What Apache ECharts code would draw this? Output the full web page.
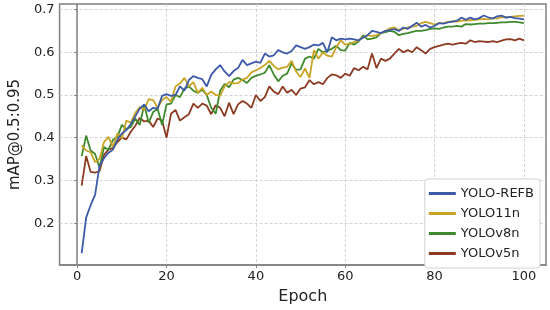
<!DOCTYPE html>
<html>
<head>
<meta charset="utf-8">
<script src="https://cdn.jsdelivr.net/npm/echarts@6/dist/echarts.min.js"></script>
<style>
  html, body { margin: 0; padding: 0; background: #fff; }
  #chart { width: 550px; height: 310px; }
</style>
</head>
<body>
<div id="chart"></div>
<script>
// epochs 1..100
var epochs = [];
for (var i = 1; i <= 100; i++) epochs.push(i);

var refb = [
  0.130, 0.213, 0.242, 0.266, 0.334, 0.352, 0.365, 0.372, 0.395, 0.410,
  0.418, 0.432, 0.450, 0.468, 0.478, 0.462, 0.470, 0.468, 0.498, 0.502,
  0.498, 0.500, 0.520, 0.510, 0.535, 0.544, 0.540, 0.537, 0.520, 0.547,
  0.560, 0.570, 0.555, 0.544, 0.556, 0.563, 0.582, 0.570, 0.574, 0.578,
  0.575, 0.597, 0.590, 0.593, 0.605, 0.600, 0.597, 0.603, 0.616, 0.612,
  0.608, 0.612, 0.618, 0.616, 0.622, 0.600, 0.635, 0.628, 0.632, 0.630,
  0.632, 0.630, 0.628, 0.634, 0.640, 0.650, 0.648, 0.645, 0.650, 0.652,
  0.654, 0.650, 0.658, 0.655, 0.662, 0.669, 0.660, 0.664, 0.658, 0.662,
  0.668, 0.667, 0.670, 0.672, 0.674, 0.681, 0.676, 0.681, 0.677, 0.680,
  0.686, 0.682, 0.679, 0.684, 0.686, 0.681, 0.683, 0.680, 0.679, 0.677
];
var yolo11n = [
  0.382, 0.370, 0.366, 0.343, 0.350, 0.390, 0.402, 0.378, 0.410, 0.398,
  0.440, 0.435, 0.458, 0.472, 0.465, 0.490, 0.488, 0.470, 0.488, 0.495,
  0.484, 0.520, 0.527, 0.540, 0.520, 0.530, 0.505, 0.517, 0.500, 0.508,
  0.500, 0.498, 0.520, 0.530, 0.527, 0.528, 0.536, 0.540, 0.553, 0.558,
  0.563, 0.570, 0.580, 0.568, 0.560, 0.564, 0.566, 0.580, 0.555, 0.542,
  0.562, 0.540, 0.605, 0.585, 0.600, 0.592, 0.590, 0.612, 0.628, 0.618,
  0.620, 0.624, 0.628, 0.635, 0.640, 0.638, 0.640, 0.645, 0.650, 0.656,
  0.658, 0.652, 0.655, 0.658, 0.660, 0.662, 0.668, 0.671, 0.668, 0.665,
  0.668, 0.668, 0.671, 0.672, 0.672, 0.674, 0.674, 0.675, 0.676, 0.677,
  0.678, 0.677, 0.680, 0.679, 0.682, 0.682, 0.683, 0.684, 0.685, 0.685
];
var yolov8n = [
  0.357, 0.405, 0.370, 0.362, 0.330, 0.378, 0.372, 0.395, 0.402, 0.430,
  0.420, 0.425, 0.445, 0.430, 0.477, 0.435, 0.460, 0.468, 0.430, 0.478,
  0.480, 0.500, 0.495, 0.515, 0.520, 0.510, 0.505, 0.512, 0.500, 0.470,
  0.456, 0.510, 0.526, 0.518, 0.536, 0.540, 0.535, 0.528, 0.540, 0.545,
  0.548, 0.552, 0.570, 0.548, 0.532, 0.545, 0.550, 0.574, 0.559, 0.560,
  0.585, 0.590, 0.585, 0.608, 0.600, 0.604, 0.608, 0.615, 0.605, 0.604,
  0.622, 0.618, 0.625, 0.640, 0.630, 0.632, 0.635, 0.645, 0.647, 0.650,
  0.648, 0.640, 0.643, 0.645, 0.648, 0.650, 0.650, 0.652, 0.655, 0.656,
  0.655, 0.658, 0.660, 0.660, 0.662, 0.660, 0.666, 0.665, 0.666, 0.667,
  0.667, 0.668, 0.668, 0.669, 0.670, 0.670, 0.671, 0.671, 0.670, 0.668
];
var yolov5n = [
  0.288, 0.357, 0.320, 0.318, 0.322, 0.360, 0.372, 0.376, 0.390, 0.400,
  0.396, 0.414, 0.428, 0.446, 0.438, 0.440, 0.425, 0.445, 0.440, 0.400,
  0.456, 0.465, 0.440, 0.448, 0.455, 0.480, 0.470, 0.480, 0.475, 0.455,
  0.476, 0.470, 0.450, 0.482, 0.455, 0.478, 0.486, 0.480, 0.470, 0.500,
  0.486, 0.495, 0.520, 0.508, 0.502, 0.520, 0.505, 0.512, 0.500, 0.515,
  0.518, 0.535, 0.525, 0.530, 0.525, 0.540, 0.548, 0.546, 0.540, 0.550,
  0.545, 0.563, 0.558, 0.566, 0.560, 0.597, 0.563, 0.585, 0.580, 0.585,
  0.597, 0.608, 0.600, 0.605, 0.600, 0.612, 0.605, 0.597, 0.608, 0.612,
  0.615, 0.618, 0.620, 0.618, 0.620, 0.622, 0.620, 0.628, 0.624, 0.626,
  0.625, 0.624, 0.626, 0.624, 0.627, 0.630, 0.631, 0.628, 0.632, 0.628
];

var xTicks = [0, 20, 40, 60, 80, 100];
var yTicks = [0.2, 0.3, 0.4, 0.5, 0.6, 0.7];

var names = ['YOLO-REFB', 'YOLO11n', 'YOLOv8n', 'YOLOv5n'];
var colors = ['#3d5aa8', '#c9a424', '#3f8a2c', '#8c3b22'];
var allData = [refb, yolo11n, yolov8n, yolov5n];

var chart = echarts.init(document.getElementById('chart'), null, { renderer: 'canvas' });

function pairs(arr) {
  return arr.map(function (v, i) { return [epochs[i], v]; });
}

var font = 'DejaVu Sans';

var option = {
  animation: false,
  backgroundColor: '#fff',
  grid: {
    left: 45, right: 4, top: 4, bottom: 39,
    show: true,
    borderColor: '#808080',
    borderWidth: 1.5
  },
  legend: {
    orient: 'vertical',
    right: 10,
    bottom: 42,
    itemWidth: 27,
    itemHeight: 3,
    itemGap: 7,
    padding: [8, 6, 8, 4],
    backgroundColor: '#fff',
    borderColor: '#d0d0d0',
    borderWidth: 1,
    borderRadius: 3,
    icon: 'rect',
    textStyle: { fontFamily: font, fontSize: 13, color: '#222' },
    data: names
  },
  xAxis: {
    type: 'value',
    min: -3.95,
    max: 104.95,
    name: 'Epoch',
    nameLocation: 'middle',
    nameGap: 24,
    nameTextStyle: { fontFamily: font, fontSize: 16, color: '#222' },
    axisLine: { show: true, lineStyle: { color: '#808080', width: 1.5 } },
    axisTick: { show: true, length: 3, customValues: xTicks, lineStyle: { color: '#808080' } },
    axisLabel: { customValues: xTicks, fontFamily: font, fontSize: 13, color: '#222', margin: 5 },
    splitLine: { show: true, lineStyle: { color: '#c8c8c8', type: [3, 2], width: 0.8 } }
  },
  yAxis: {
    type: 'value',
    min: 0.102,
    max: 0.713,
    name: 'mAP@0.5:0.95',
    nameLocation: 'middle',
    nameGap: 32,
    nameTextStyle: { fontFamily: font, fontSize: 15, color: '#222' },
    axisLine: { show: true, lineStyle: { color: '#808080', width: 1.5 } },
    axisTick: { show: true, length: 3, customValues: yTicks, lineStyle: { color: '#808080' } },
    axisLabel: {
      customValues: yTicks, fontFamily: font, fontSize: 13, color: '#222', margin: 5,
      formatter: function (v) { return v.toFixed(1); }
    },
    splitLine: { show: true, lineStyle: { color: '#c8c8c8', type: [3, 2], width: 0.8 } }
  },
  series: names.map(function (n, k) {
    return {
      name: n,
      type: 'line',
      data: pairs(allData[k]),
      showSymbol: false,
      symbol: 'none',
      color: colors[k],
      lineStyle: { width: 1.8, color: colors[k] },
      z: 10 - k
    };
  })
};

chart.setOption(option);
</script>
</body>
</html>
